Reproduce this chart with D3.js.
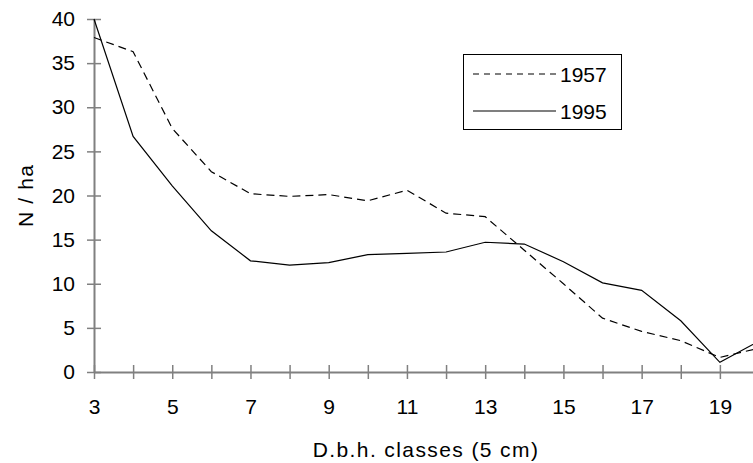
<!DOCTYPE html>
<html>
<head>
<meta charset="utf-8">
<script src="https://cdn.jsdelivr.net/npm/d3@7"></script>
<style>
  html, body { margin: 0; padding: 0; background: #fff; }
  svg { display: block; }
  text { font-family: "Liberation Sans", Arial, sans-serif; fill: #000; }
</style>
</head>
<body>
<svg id="chart" width="753" height="463"></svg>
<script>
// Diameter classes (5 cm steps)
const classes = [3, 4, 5, 6, 7, 8, 9, 10, 11, 12, 13, 14, 15, 16, 17, 18, 19, 20];
// Stems per hectare by class
const n1957 = [37.9, 36.3, 27.6, 22.7, 20.2, 19.9, 20.1, 19.4, 20.6, 18.0, 17.6, 13.8, 10.0, 6.1, 4.6, 3.55, 1.65, 2.7];
const n1995 = [40.0, 26.7, 21.1, 16.0, 12.6, 12.1, 12.4, 13.3, 13.45, 13.6, 14.7, 14.5, 12.5, 10.1, 9.25, 5.8, 1.1, 3.5];
const seriesNames = ["1957", "1995"];
const xTickLabels = [3, 5, 7, 9, 11, 13, 15, 17, 19];
const yTickValues = [0, 5, 10, 15, 20, 25, 30, 35, 40];

const svg = d3.select("#chart");

const x = d3.scaleLinear().domain([3, 20]).range([94, 759]);
const y = d3.scaleLinear().domain([0, 40]).range([372, 19]);

const axisColor = "#808080";
const fontSize = 21;
const fontFamily = "Liberation Sans, Arial, sans-serif";

// Y axis
const yAxis = svg.append("g").attr("transform", `translate(${x(3)},0)`)
  .call(d3.axisLeft(y).tickValues(yTickValues).tickSize(7).tickSizeOuter(0).tickPadding(12));
yAxis.select(".domain").attr("stroke", axisColor).attr("stroke-width", 2);
yAxis.selectAll(".tick line").attr("stroke", axisColor).attr("stroke-width", 1.5).attr("x2", 7).attr("x1", -7);
yAxis.selectAll(".tick text").attr("font-size", fontSize).attr("font-family", fontFamily).attr("fill", "#000");

// X axis
const xAxis = svg.append("g").attr("transform", `translate(0,${y(0)})`)
  .call(d3.axisBottom(x).tickValues(classes).tickSize(7).tickSizeOuter(0)
    .tickFormat(d => xTickLabels.includes(d) ? d : "").tickPadding(20));
xAxis.select(".domain").attr("stroke", axisColor).attr("stroke-width", 2);
xAxis.selectAll(".tick line").attr("stroke", axisColor).attr("stroke-width", 1.5).attr("y1", -7).attr("y2", 7);
xAxis.selectAll(".tick text").attr("font-size", fontSize).attr("font-family", fontFamily).attr("fill", "#000");

// Axis titles
svg.append("text")
  .attr("transform", `translate(33,195.5) rotate(-90)`)
  .attr("text-anchor", "middle")
  .attr("font-size", fontSize)
  .attr("letter-spacing", "1.2px")
  .text("N / ha");

svg.append("text")
  .attr("x", 426).attr("y", 457)
  .attr("text-anchor", "middle")
  .attr("font-size", fontSize)
  .attr("letter-spacing", "1.4px")
  .text("D.b.h. classes (5 cm)");

// Series lines
const line = d3.line().x(d => x(d[0])).y(d => y(d[1]));
const series = [
  { name: seriesNames[0], values: n1957, dash: "8,5" },
  { name: seriesNames[1], values: n1995, dash: null }
];
series.forEach(s => {
  svg.append("path")
    .datum(classes.map((c, i) => [c, s.values[i]]))
    .attr("fill", "none")
    .attr("stroke", "#000")
    .attr("stroke-width", 1.2)
    .attr("stroke-dasharray", s.dash)
    .attr("d", line);
});

// Legend
const legend = svg.append("g");
legend.append("rect")
  .attr("x", 463.5).attr("y", 54.5).attr("width", 158).attr("height", 75)
  .attr("fill", "#fff").attr("stroke", "#000").attr("stroke-width", 1);
series.forEach((s, i) => {
  const ly = 74 + i * 37;
  legend.append("line")
    .attr("x1", 473).attr("x2", 556).attr("y1", ly).attr("y2", ly)
    .attr("stroke", "#000").attr("stroke-width", 1.2)
    .attr("stroke-dasharray", s.dash ? "6,5" : null);
  legend.append("text")
    .attr("x", 560).attr("y", ly + 7.5)
    .attr("font-size", fontSize)
    .text(s.name);
});
</script>
</body>
</html>
